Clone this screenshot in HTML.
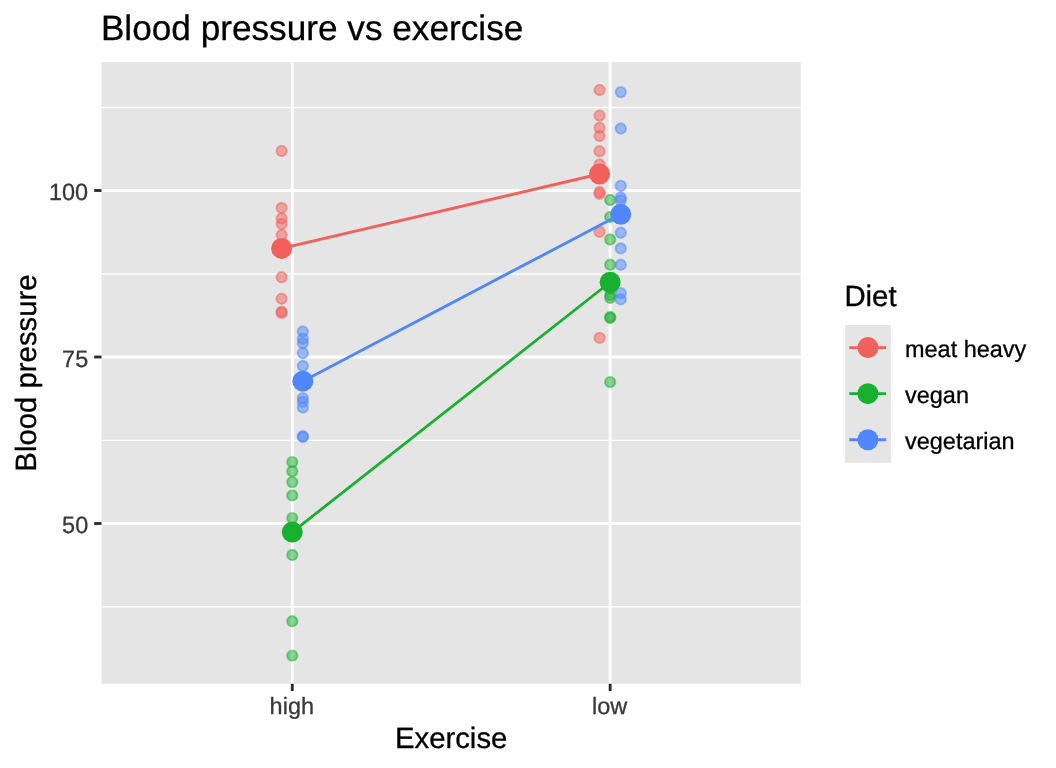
<!DOCTYPE html>
<html><head><meta charset="utf-8"><title>Blood pressure vs exercise</title>
<style>html,body{margin:0;padding:0;background:#fff}svg{display:block;will-change:transform}text{font-family:"Liberation Sans",sans-serif;text-rendering:geometricPrecision}</style></head><body>
<svg width="1056" height="768" viewBox="0 0 1056 768">
<rect width="1056" height="768" fill="#fff"/>
<rect x="101.5" y="62.2" width="699.30" height="621.55" fill="#E5E5E5"/>
<g stroke="#fff" fill="none">
<line x1="101.5" x2="800.8" y1="107.45" y2="107.45" stroke-width="1.42"/>
<line x1="101.5" x2="800.8" y1="273.95" y2="273.95" stroke-width="1.42"/>
<line x1="101.5" x2="800.8" y1="440.35" y2="440.35" stroke-width="1.42"/>
<line x1="101.5" x2="800.8" y1="606.75" y2="606.75" stroke-width="1.42"/>
<line x1="101.5" x2="800.8" y1="190.50" y2="190.50" stroke-width="2.85"/>
<line x1="101.5" x2="800.8" y1="357.00" y2="357.00" stroke-width="2.85"/>
<line x1="101.5" x2="800.8" y1="523.50" y2="523.50" stroke-width="2.85"/>
<line x1="292.25" x2="292.25" y1="62.2" y2="683.75" stroke-width="2.85"/>
<line x1="610.15" x2="610.15" y1="62.2" y2="683.75" stroke-width="2.85"/>
</g>
<g fill="#F35F5A" stroke="#F35F5A" fill-opacity="0.5" stroke-opacity="0.5" stroke-width="1.89">
<circle cx="281.65" cy="151" r="5.2"/>
<circle cx="281.65" cy="207.9" r="5.2"/>
<circle cx="281.65" cy="218.5" r="5.2"/>
<circle cx="281.65" cy="224" r="5.2"/>
<circle cx="281.65" cy="235" r="5.2"/>
<circle cx="281.65" cy="247.2" r="5.2"/>
<circle cx="281.65" cy="277.25" r="5.2"/>
<circle cx="281.65" cy="298.75" r="5.2"/>
<circle cx="281.65" cy="311.6" r="5.2"/>
<circle cx="281.65" cy="313" r="5.2"/>
<circle cx="599.55" cy="90" r="5.2"/>
<circle cx="599.55" cy="115.6" r="5.2"/>
<circle cx="599.55" cy="127.75" r="5.2"/>
<circle cx="599.55" cy="136" r="5.2"/>
<circle cx="599.55" cy="151.25" r="5.2"/>
<circle cx="599.55" cy="164.4" r="5.2"/>
<circle cx="599.55" cy="192" r="5.2"/>
<circle cx="599.55" cy="193.8" r="5.2"/>
<circle cx="599.55" cy="231.9" r="5.2"/>
<circle cx="599.55" cy="337.9" r="5.2"/>
</g>
<g fill="#19B02F" stroke="#19B02F" fill-opacity="0.5" stroke-opacity="0.5" stroke-width="1.89">
<circle cx="292.25" cy="462.1" r="5.2"/>
<circle cx="292.25" cy="471.25" r="5.2"/>
<circle cx="292.25" cy="482.1" r="5.2"/>
<circle cx="292.25" cy="495.4" r="5.2"/>
<circle cx="292.25" cy="518.1" r="5.2"/>
<circle cx="292.25" cy="529" r="5.2"/>
<circle cx="292.25" cy="535" r="5.2"/>
<circle cx="292.25" cy="555" r="5.2"/>
<circle cx="292.25" cy="621.25" r="5.2"/>
<circle cx="292.25" cy="655.6" r="5.2"/>
<circle cx="610.15" cy="200" r="5.2"/>
<circle cx="610.15" cy="217" r="5.2"/>
<circle cx="610.15" cy="239.5" r="5.2"/>
<circle cx="610.15" cy="264.75" r="5.2"/>
<circle cx="610.15" cy="288.5" r="5.2"/>
<circle cx="610.15" cy="295" r="5.2"/>
<circle cx="610.15" cy="297.8" r="5.2"/>
<circle cx="610.15" cy="317" r="5.2"/>
<circle cx="610.15" cy="318" r="5.2"/>
<circle cx="610.15" cy="382.1" r="5.2"/>
</g>
<g fill="#5087FC" stroke="#5087FC" fill-opacity="0.5" stroke-opacity="0.5" stroke-width="1.89">
<circle cx="302.85" cy="331.5" r="5.2"/>
<circle cx="302.85" cy="338.75" r="5.2"/>
<circle cx="302.85" cy="343.1" r="5.2"/>
<circle cx="302.85" cy="353.1" r="5.2"/>
<circle cx="302.85" cy="366" r="5.2"/>
<circle cx="302.85" cy="398.1" r="5.2"/>
<circle cx="302.85" cy="401.9" r="5.2"/>
<circle cx="302.85" cy="407.5" r="5.2"/>
<circle cx="302.85" cy="436.2" r="5.2"/>
<circle cx="302.85" cy="437" r="5.2"/>
<circle cx="620.75" cy="92.1" r="5.2"/>
<circle cx="620.75" cy="128.5" r="5.2"/>
<circle cx="620.75" cy="185.8" r="5.2"/>
<circle cx="620.75" cy="197.5" r="5.2"/>
<circle cx="620.75" cy="200.3" r="5.2"/>
<circle cx="620.75" cy="232.75" r="5.2"/>
<circle cx="620.75" cy="248.4" r="5.2"/>
<circle cx="620.75" cy="264.75" r="5.2"/>
<circle cx="620.75" cy="293.1" r="5.2"/>
<circle cx="620.75" cy="299.4" r="5.2"/>
</g>
<line x1="281.65" y1="248.4" x2="599.55" y2="174.0" stroke="#F35F5A" stroke-width="2.85"/>
<line x1="292.25" y1="532.1" x2="610.15" y2="282.25" stroke="#19B02F" stroke-width="2.85"/>
<line x1="302.85" y1="381.15" x2="620.75" y2="214.3" stroke="#5087FC" stroke-width="2.85"/>
<circle cx="281.65" cy="248.4" r="10.5" fill="#F35F5A"/>
<circle cx="599.55" cy="174.0" r="10.5" fill="#F35F5A"/>
<circle cx="292.25" cy="532.1" r="10.5" fill="#19B02F"/>
<circle cx="610.15" cy="282.25" r="10.5" fill="#19B02F"/>
<circle cx="302.85" cy="381.15" r="10.5" fill="#5087FC"/>
<circle cx="620.75" cy="214.3" r="10.5" fill="#5087FC"/>
<g stroke="#2B2B2B" stroke-width="2.85">
<line x1="94.2" x2="101.5" y1="190.50" y2="190.50"/>
<line x1="94.2" x2="101.5" y1="357.00" y2="357.00"/>
<line x1="94.2" x2="101.5" y1="523.50" y2="523.50"/>
<line x1="292.25" x2="292.25" y1="683.75" y2="691.1"/>
<line x1="610.15" x2="610.15" y1="683.75" y2="691.1"/>
</g>
<g fill="#383838" stroke="#383838" stroke-width="0.3" font-size="23.47px">
<text x="88.2" y="200.30" text-anchor="end">100</text>
<text x="88.2" y="366.80" text-anchor="end">75</text>
<text x="88.2" y="533.30" text-anchor="end">50</text>
<text x="291.80" y="713.75" text-anchor="middle">high</text>
<text x="609.70" y="713.75" text-anchor="middle">low</text>
</g>
<g fill="#000" stroke="#000" stroke-width="0.3">
<text x="100.9" y="39.9" font-size="35.2px">Blood pressure vs exercise</text>
<text x="451.15" y="748" font-size="29.33px" text-anchor="middle">Exercise</text>
<text transform="translate(35.9,373) rotate(-90)" font-size="29.33px" text-anchor="middle">Blood pressure</text>
<text x="844.4" y="306.2" font-size="29.33px">Diet</text>
<text x="905.0" y="356.90" font-size="23.47px">meat heavy</text>
<text x="905.0" y="402.98" font-size="23.47px">vegan</text>
<text x="905.0" y="449.06" font-size="23.47px">vegetarian</text>
</g>
<rect x="845.1" y="325.05" width="45.8" height="137.7" fill="#E5E5E5"/>
<line x1="849.25" x2="886.15" y1="347.60" y2="347.60" stroke="#F35F5A" stroke-width="2.85"/>
<circle cx="867.9" cy="347.60" r="10.5" fill="#F35F5A"/>
<line x1="849.25" x2="886.15" y1="393.68" y2="393.68" stroke="#19B02F" stroke-width="2.85"/>
<circle cx="867.9" cy="393.68" r="10.5" fill="#19B02F"/>
<line x1="849.25" x2="886.15" y1="439.76" y2="439.76" stroke="#5087FC" stroke-width="2.85"/>
<circle cx="867.9" cy="439.76" r="10.5" fill="#5087FC"/>
</svg></body></html>
